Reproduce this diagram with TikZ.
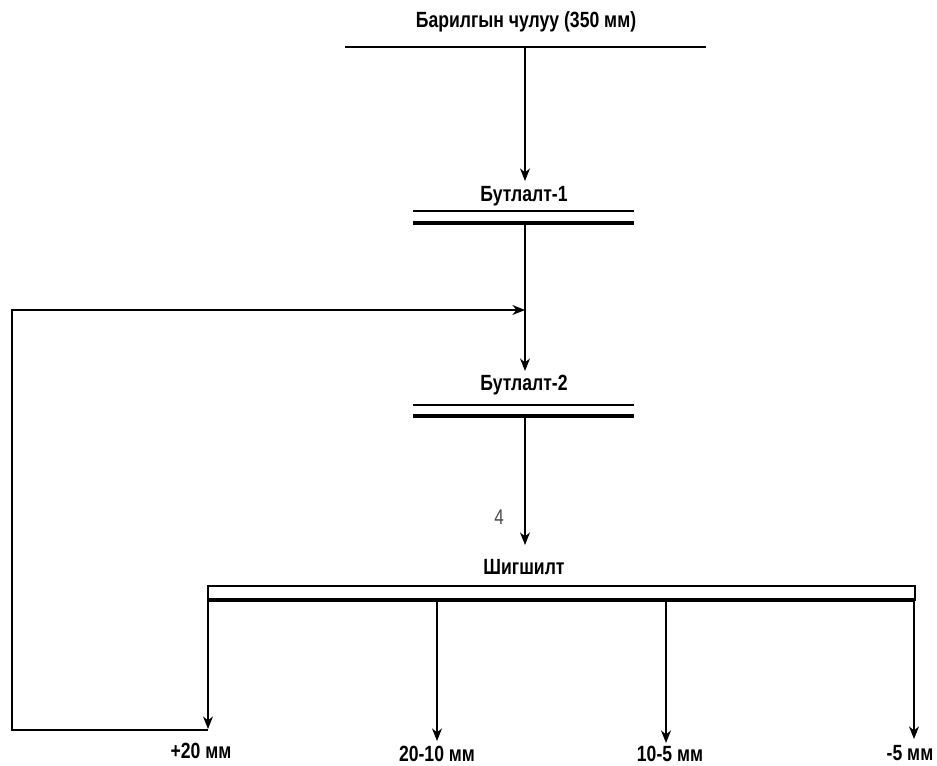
\documentclass[tikz,border=0pt]{standalone}
\usepackage{fontspec}
\setmainfont{Liberation Sans}[FakeStretch=0.8]
\usetikzlibrary{arrows.meta}
\begin{document}
\begin{tikzpicture}[x=0.75pt,y=-0.75pt,
  lbl/.style={font=\bfseries\fontsize{16.5}{18}\selectfont, inner sep=0pt, anchor=center},
  thinln/.style={line width=0.9pt},
  thickln/.style={line width=2.4pt},
  flow/.style={line width=0.9pt,-{Stealth[length=9.5pt,width=7.5pt]}},
  plain/.style={line width=0.9pt}]
\useasboundingbox (0,0) rectangle (937,765);
% title
\node[lbl] (title) at (526,22) {Барилгын чулуу (350 мм)};
\coordinate (tl) at (345,47); \coordinate (tr) at (706,47);
\draw[thinln] (tl) -- (tr);
\coordinate (t0) at (525,47);
% crusher 1
\node[lbl] (b1) at (524,196) {Бутлалт-1};
\coordinate (b1in) at (525,181);
\draw[flow] (t0) -- (b1in);
\coordinate (b1a) at (413,211); \coordinate (b1b) at (634,211);
\draw[thinln] (b1a) -- (b1b);
\coordinate (b1c) at (413,223); \coordinate (b1d) at (634,223);
\draw[thickln] (b1c) -- (b1d);
\coordinate (b1out) at (525,223);
% crusher 2
\node[lbl] (b2) at (524,385) {Бутлалт-2};
\coordinate (b2in) at (525,371);
\draw[flow] (b1out) -- (b2in);
\coordinate (b2a) at (413,405); \coordinate (b2b) at (634,405);
\draw[thinln] (b2a) -- (b2b);
\coordinate (b2c) at (413,416); \coordinate (b2d) at (634,416);
\draw[thickln] (b2c) -- (b2d);
\coordinate (b2out) at (525,416);
% screen
\node[lbl] (sh) at (524,567) {Шигшилт};
\coordinate (shin) at (525,545);
\draw[flow] (b2out) -- (shin);
\node[font=\fontsize{16}{18}\selectfont, text=black!70, inner sep=0pt] (four) at (499,517) {4};
\coordinate (r1) at (208,586); \coordinate (r2) at (915,600);
\draw[thinln] (r1) rectangle (r2);
\coordinate (s1) at (208,600); \coordinate (s2) at (915,600);
\draw[thickln] (s1) -- (s2);
% products
\coordinate (o1) at (208,600); \coordinate (e1) at (208,729);
\coordinate (o2) at (437,600); \coordinate (e2) at (437,741);
\coordinate (o3) at (666,600); \coordinate (e3) at (666,743);
\coordinate (o4) at (914,600); \coordinate (e4) at (914,739);
\draw[flow] (o1) -- (e1);
\draw[flow] (o2) -- (e2);
\draw[flow] (o3) -- (e3);
\draw[flow] (o4) -- (e4);
\node[lbl] (p1) at (201,751) {+20 мм};
\node[lbl] (p2) at (437,754) {20-10 мм};
\node[lbl] (p3) at (670,754) {10-5 мм};
\node[lbl] (p4) at (910,753) {-5 мм};
% recycle
\coordinate (f1) at (208,730); \coordinate (f2) at (12,730);
\coordinate (f3) at (12,310); \coordinate (f4) at (525,310);
\draw[flow] (f1) -- (f2) -- (f3) -- (f4);
\end{tikzpicture}
\end{document}
